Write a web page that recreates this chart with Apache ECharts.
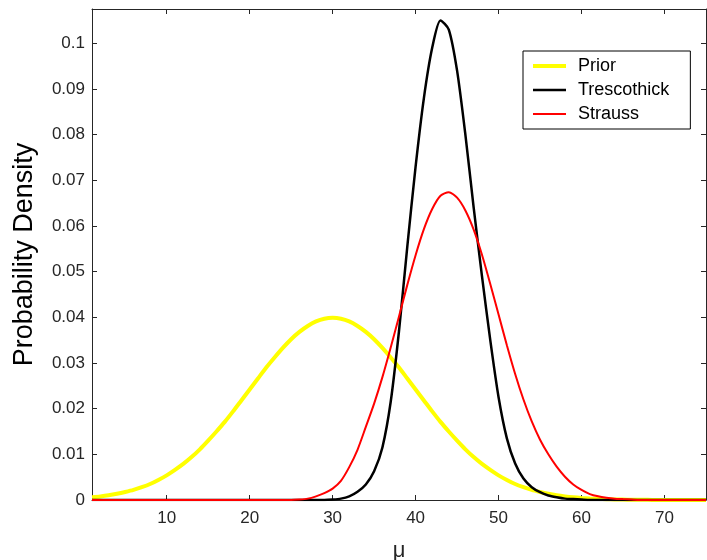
<!DOCTYPE html>
<html>
<head>
<meta charset="utf-8">
<script src="https://cdn.jsdelivr.net/npm/echarts@6/dist/echarts.min.js"></script>
<style>
    html, body { margin: 0; padding: 0; background: #fff; }
    #chart { width: 707px; height: 560px; }
</style>
</head>
<body>
<div id="chart"></div>
<script>
    // mu values, one point per unit
    var mu = [1, 2, 3, 4, 5, 6, 7, 8, 9, 10,
        11, 12, 13, 14, 15, 16, 17, 18, 19, 20,
        21, 22, 23, 24, 25, 26, 27, 28, 29, 30,
        31, 32, 33, 34, 35, 36, 37, 38, 39, 40,
        41, 42, 43, 44, 45, 46, 47, 48, 49, 50,
        51, 52, 53, 54, 55, 56, 57, 58, 59, 60,
        61, 62, 63, 64, 65, 66, 67, 68, 69, 70,
        71, 72, 73, 74, 75];

    var priorDensity = [0.00059, 0.00079, 0.00104, 0.00136, 0.00175, 0.0022, 0.0028, 0.0035, 0.0044, 0.0054,
        0.0066, 0.0079, 0.0094, 0.0111, 0.0130, 0.0150, 0.0171, 0.0194, 0.0218, 0.0242,
        0.0266, 0.0290, 0.0312, 0.0333, 0.0352, 0.0368, 0.0381, 0.0391, 0.0397, 0.0399,
        0.0397, 0.0391, 0.0381, 0.0368, 0.0352, 0.0333, 0.0312, 0.0290, 0.0266, 0.0242,
        0.0218, 0.0194, 0.0171, 0.0150, 0.0130, 0.0111, 0.0094, 0.0079, 0.0066, 0.0054,
        0.0044, 0.0035, 0.0028, 0.0022, 0.00175, 0.00136, 0.00104, 0.00079, 0.00059, 0.00044,
        0.00033, 0.00024, 0.00017, 0.00012, 0.00009, 0.00006, 0.00004, 0.00003, 0.00002, 0.00001,
        0, 0, 0, 0, 0];

    var trescothickDensity = [0, 0, 0, 0, 0, 0, 0, 0, 0, 0,
        0, 0, 0, 0, 0, 0, 0, 0, 0, 0,
        0, 0, 0, 0, 0, 0, 0, 0, 0, 0.0001,
        0.0003, 0.0008, 0.0018, 0.0034, 0.0063, 0.0115, 0.0215, 0.037, 0.0555, 0.073,
        0.088, 0.099, 0.105, 0.103, 0.094, 0.080, 0.064, 0.049, 0.035, 0.0225,
        0.0135, 0.0080, 0.0047, 0.0028, 0.0017, 0.0010, 0.0006, 0.0003, 0.0002, 0.0001,
        0, 0, 0, 0, 0, 0, 0, 0, 0, 0,
        0, 0, 0, 0, 0];

    var straussDensity = [0, 0, 0, 0, 0, 0, 0, 0, 0, 0,
        0, 0, 0, 0, 0, 0, 0, 0, 0, 0,
        0, 0, 0, 0, 0, 0.0001, 0.0003, 0.0008, 0.0015, 0.0025,
        0.0042, 0.0072, 0.0110, 0.0160, 0.0211, 0.0269, 0.0334, 0.0402, 0.0471, 0.0536,
        0.0593, 0.0637, 0.0666, 0.0674, 0.0662, 0.0634, 0.0592, 0.0537, 0.0473, 0.0406,
        0.0339, 0.0276, 0.0220, 0.0172, 0.0132, 0.0100, 0.0073, 0.0051, 0.0034, 0.0022,
        0.0013, 0.0008, 0.0005, 0.0003, 0.0002, 0.0001, 0, 0, 0, 0,
        0, 0, 0, 0, 0];

    var seriesNames = ['Prior', 'Trescothick', 'Strauss'];
    var seriesColors = ['#ffff00', '#000000', '#ff0000'];
    var seriesWidths = [4, 2.5, 2];
    var seriesValues = [priorDensity, trescothickDensity, straussDensity];
    // flat line icons for the legend, thickness follows the line width
    var legendIcons = ['path://M0,0H33V4H0Z', 'path://M0,0H33V2.5H0Z', 'path://M0,0H33V2H0Z'];

    var font = 'Liberation Sans, Arial, sans-serif';
    var axisColor = '#262626';

    function pairs(values) {
        return mu.map(function (m, i) { return [m, values[i]]; });
    }

    var chart = echarts.init(document.getElementById('chart'), null, {renderer: 'canvas'});

    var frameAxis = {
        axisLine: {show: true, onZero: false, lineStyle: {color: axisColor, width: 1}},
        axisTick: {show: true, inside: true, length: 5, lineStyle: {color: axisColor}},
        axisLabel: {show: false},
        splitLine: {show: false}
    };

    var option = {
        animation: false,
        backgroundColor: '#fff',
        grid: {left: 92, top: 9, right: 1, bottom: 60, containLabel: false, outerBoundsMode: 'none'},
        legend: {
            orient: 'vertical',
            left: 523,
            top: 51,
            padding: [6, 21, 6, 10],
            itemWidth: 33,
            itemHeight: 14,
            itemGap: 6,
            symbolKeepAspect: true,
            borderColor: '#000',
            borderWidth: 1,
            borderRadius: 0,
            backgroundColor: '#fff',
            textStyle: {fontFamily: font, fontSize: 18, color: '#000', padding: [0, 0, 0, 7]},
            data: seriesNames.map(function (name, i) {
                return {name: name, icon: legendIcons[i], itemStyle: {color: seriesColors[i]}};
            })
        },
        xAxis: [{
            type: 'value',
            min: 1,
            max: 75,
            splitNumber: 7,
            name: 'μ',
            nameLocation: 'middle',
            nameGap: 40,
            nameTextStyle: {fontFamily: font, fontSize: 22, color: axisColor},
            axisLine: {show: true, onZero: false, lineStyle: {color: axisColor, width: 1}},
            axisTick: {show: true, inside: true, length: 5, lineStyle: {color: axisColor}},
            axisLabel: {fontFamily: font, fontSize: 17, color: axisColor, margin: 10,
                showMinLabel: false, showMaxLabel: false},
            splitLine: {show: false}
        }, Object.assign({
            type: 'value', position: 'top', min: 1, max: 75, splitNumber: 7
        }, frameAxis)],
        yAxis: [{
            type: 'value',
            min: 0,
            max: 0.1075,
            interval: 0.01,
            name: 'Probability Density',
            nameLocation: 'middle',
            nameGap: 54,
            nameTextStyle: {fontFamily: font, fontSize: 27, color: '#000'},
            axisLine: {show: true, onZero: false, lineStyle: {color: axisColor, width: 1}},
            axisTick: {show: true, inside: true, length: 5, lineStyle: {color: axisColor}},
            axisLabel: {fontFamily: font, fontSize: 17, color: axisColor, margin: 7,
                showMaxLabel: false,
                formatter: function (v) { return String(Math.round(v * 100) / 100); }},
            splitLine: {show: false}
        }, Object.assign({
            type: 'value', position: 'right', min: 0, max: 0.1075, interval: 0.01
        }, frameAxis)],
        series: seriesNames.map(function (name, i) {
            return {
                name: name,
                type: 'line',
                xAxisIndex: 0,
                yAxisIndex: 0,
                symbol: 'none',
                smooth: 0.25,
                data: pairs(seriesValues[i]),
                lineStyle: {color: seriesColors[i], width: seriesWidths[i]},
                itemStyle: {color: seriesColors[i]}
            };
        })
    };

    chart.setOption(option);
</script>
</body>
</html>
